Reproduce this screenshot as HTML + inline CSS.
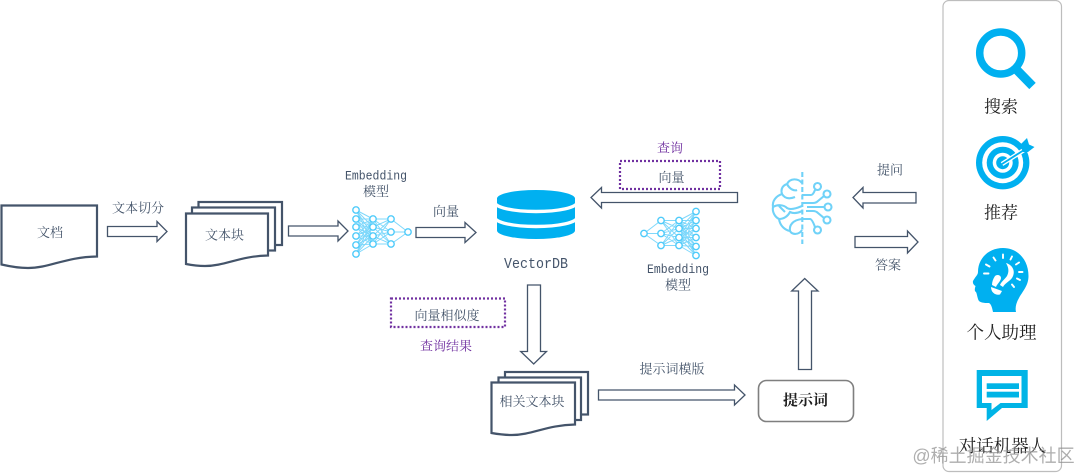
<!DOCTYPE html>
<html lang="zh"><head><meta charset="utf-8"><title>RAG</title>
<style>
html,body{margin:0;padding:0;background:#fff}
svg{display:block;filter:blur(.35px)}
text{font-family:"Liberation Serif","Noto Serif CJK SC",serif;font-size:13px;fill:#44546a;text-anchor:middle;dominant-baseline:central}
.m{font-family:"Liberation Mono","Noto Serif CJK SC",monospace}
.p{fill:#7030a0}
.k{fill:#1f1f1f;font-size:17px}
.d{fill:#fff;stroke:#44546a;stroke-width:2.2}
.a{fill:#fff;stroke:#44546a;stroke-width:1.3}
.b{fill:none;stroke:#7030a0;stroke-width:2.2;stroke-dasharray:2 2}
</style></head><body>
<svg width="1080" height="473" viewBox="0 0 1080 473" xmlns="http://www.w3.org/2000/svg">
<defs>
<g id="net">
<path fill="none" stroke="#7fd8fb" stroke-width="1" d="M373 219L356 210M373 219L356 219M373 219L356 227M373 219L356 236M373 219L356 245M373 219L356 254M373 227L356 210M373 227L356 219M373 227L356 227M373 227L356 236M373 227L356 245M373 227L356 254M373 236L356 210M373 236L356 219M373 236L356 227M373 236L356 236M373 236L356 245M373 236L356 254M373 244L356 210M373 244L356 219M373 244L356 227M373 244L356 236M373 244L356 245M373 244L356 254M391 219L373 219M391 219L373 227M391 219L373 236M391 219L373 244M391 232L373 219M391 232L373 227M391 232L373 236M391 232L373 244M391 244L373 219M391 244L373 227M391 244L373 236M391 244L373 244M408 232L391 219M408 232L391 232M408 232L391 244"/>
<g fill="#fff" stroke="#4fcbfa" stroke-width="1.4">
<circle cx="356" cy="210" r="3.2"/><circle cx="356" cy="219" r="3.2"/><circle cx="356" cy="227" r="3.2"/><circle cx="356" cy="236" r="3.2"/><circle cx="356" cy="245" r="3.2"/><circle cx="356" cy="254" r="3.2"/>
<circle cx="373" cy="219" r="3.2"/><circle cx="373" cy="227" r="3.2"/><circle cx="373" cy="236" r="3.2"/><circle cx="373" cy="244" r="3.2"/>
<circle cx="391" cy="219" r="3.2"/><circle cx="391" cy="232" r="3.2"/><circle cx="391" cy="244" r="3.2"/>
<circle cx="408" cy="232" r="3.2"/>
</g></g>
</defs>

<!-- document -->
<path class="d" d="M1.500 205.500H97V256.500C65 257 50 268 28 268C17 268 8 266 1.500 264.500Z"/>
<text x="50" y="232.500">文档</text>
<text x="138" y="208">文本切分</text>
<path class="a" d="M107.500 226.500H157V221.500L167 231.500L157 241.500V236.500H107.500Z"/>

<!-- stack 1 -->
<rect class="d" x="198.500" y="202" width="83.500" height="43"/>
<rect class="d" x="192" y="207.500" width="83" height="43"/>
<path class="d" d="M186 213.500H268V255.500C240 256 225 266 205 266C197 266 191 265 186 264Z"/>
<text x="224.500" y="235">文本块</text>

<path class="a" d="M288.500 226H338V221L348 231L338 241V236H288.500Z"/>
<text class="m" x="376" y="176" textLength="62" lengthAdjust="spacingAndGlyphs" style="font-size:13px">Embedding</text>
<text x="376" y="191.500">模型</text>
<use href="#net"/>
<text x="446" y="211.500">向量</text>
<path class="a" d="M416 227.500H465V222.500L476 232.500L465 242.500V237.500H416Z"/>

<!-- db -->
<path fill="#00b0f0" d="M497 198H575V230.500A39 8.500 0 0 1 497 230.500Z"/>
<path fill="none" stroke="#fff" stroke-width="3.400" d="M495 202.500A41 9 0 0 0 577 202.500M495 217.500A41 9 0 0 0 577 217.500"/>
<ellipse cx="536" cy="198.500" rx="39" ry="8.500" fill="#00b0f0"/>
<text class="m" x="536" y="265" textLength="64" lengthAdjust="spacingAndGlyphs" style="font-size:14.500px">VectorDB</text>

<!-- query -->
<text class="p" x="670" y="148">查询</text>
<rect class="b" x="620" y="161" width="100" height="28"/>
<text x="671.500" y="177.500">向量</text>
<path class="a" d="M737.500 192.500V202.500H601.500V208L591 197.500L601.500 187.500V192.500Z"/>
<use href="#net" transform="translate(1052 1.500) scale(-1 1)"/>
<text class="m" x="678" y="269.500" textLength="62" lengthAdjust="spacingAndGlyphs" style="font-size:13px">Embedding</text>
<text x="678" y="285">模型</text>

<!-- brain -->
<g fill="none" stroke="#70d2f8" stroke-width="2.100">
<path stroke-dasharray="5 2.500" d="M802.300 172V244"/>
<path d="M802 183C798 178 790 178 787 184C781 186 781 191 782 194C776 196 772 201 773 207C772 212 775 217 779 219C780 226 785 230 790 231C792 235 799 235 802 230"/>
<path d="M787 184C790 190 795 191 797 190M782 194C785 199 790 199 795 197M773 207C778 204 784 205 787 208C790 210 795 209 802 206M779 206L785 212M779 219C784 219 788 216 790 212C794 214 798 213 802 211M790 231C789 225 793 220 802 219"/>
<path d="M802 195H811Q813 195 815 190M802 203H813Q816 203 818 201L824 196M807 207H824.500M806 211H813Q816 211 818 213L824 218M802 219H810Q812 219 815 227"/>
<circle cx="817.500" cy="186.500" r="3.500"/><circle cx="827" cy="194" r="3.500"/><circle cx="828" cy="207" r="3.500"/><circle cx="827" cy="220" r="3.500"/><circle cx="817.500" cy="230" r="3.500"/>
</g>
<text x="890" y="170">提问</text>
<path class="a" d="M916 192.500V203H863V208L853 197.500L863 187.500V192.500Z"/>
<path class="a" d="M855 236.500H907.500V231L918 242L907.500 253V247.500H855Z"/>
<text x="888" y="265">答案</text>

<!-- lower -->
<rect class="b" x="391" y="298.500" width="114" height="28.500"/>
<text x="447" y="315.500">向量相似度</text>
<text class="p" x="446" y="346">查询结果</text>
<path class="a" d="M527.500 285H540.500V351.500H546.500L533.700 364L520.700 351.500H527.500Z"/>
<rect class="d" x="505" y="372" width="83" height="42.500"/>
<rect class="d" x="498.500" y="377.500" width="82.500" height="42.500"/>
<path class="d" d="M491.500 382.500H575V424.500C547 425 532 435 512 435C503 435 497 434 491.500 433Z"/>
<text x="532" y="401.500">相关文本块</text>
<text x="672" y="369">提示词模版</text>
<path class="a" d="M598.500 390H734.500V385L745 395L734.500 405V400H598.500Z"/>
<rect x="758.500" y="380.500" width="95" height="41" rx="8" fill="#fff" stroke="#7f7f7f" stroke-width="1.600"/>
<text x="805.500" y="401" style="font-size:15px;fill:#1f1f1f;font-weight:700">提示词</text>
<path class="a" d="M798.500 369.500V291H791.700L804.700 278.500L818 291H811.500V369.500Z"/>

<!-- panel -->
<rect x="943" y="0.500" width="118.500" height="471" rx="6" fill="#fff" stroke="#bdbdbd" stroke-width="1.200"/>
<circle cx="1000.700" cy="53" r="21" fill="none" stroke="#00b0f0" stroke-width="7.500"/>
<path d="M1014 67L1032.500 86" stroke="#00b0f0" stroke-width="9"/>
<text class="k" x="1001" y="107">搜索</text>

<circle cx="1002.700" cy="162.700" r="26.700" fill="#00b0f0"/>
<circle cx="1002.700" cy="162.700" r="20.500" fill="#fff"/>
<circle cx="1002.700" cy="162.700" r="16" fill="#00b0f0"/>
<circle cx="1002.700" cy="162.700" r="10" fill="#fff"/>
<circle cx="1002.700" cy="162.700" r="6.500" fill="#00b0f0"/>
<path d="M1002 164L1024 150" stroke="#fff" stroke-width="4.500"/>
<path d="M1002 164L1024 150" stroke="#00b0f0" stroke-width="1.800"/>
<path fill="#00b0f0" d="M1020 145L1027 138L1029 144.500L1034.500 147L1028 152L1023 152Z"/>
<text class="k" x="1001" y="213">推荐</text>

<path fill="#00b0f0" d="M1003 248C1018 248 1028.500 260 1028.500 276C1028.500 286 1022 292 1019 298C1016 303 1015 308 1016 312H993C992 307 991 304 989 303C984 303 979 303 978 299C977 296 977 294 976 292C974 291 975 288 975.500 286C973.500 285 972.500 283 973 281C975 277 978 275 978 272C978 258 989 248 1003 248Z"/>
<g stroke="#fff" stroke-width="1.900" fill="none" stroke-linecap="round">
<path d="M984 273.500H988.500M986 264.500L989.500 266.500M993.500 257.500L995.500 260.500M1003 254.500V258M1012 256.500L1010.500 259.500M1019 262.500L1016 264.500M1022.500 272H1019M1020 280L1017 278.500M1014 287L1012 284.500"/>
</g>
<path fill="#fff" d="M1006 263C1013 265 1016 272 1012 278C1009 282 1005 283 1003 287L1000 285C1001 282 1005 279 1007 276C1009 272 1009 268 1006 263Z"/>
<path fill="#fff" d="M995 276C997 274 1001 275 1001 278C1001 281 997 284 996 287L992 285C992 282 993 279 995 276Z"/>
<path fill="#fff" d="M991 287L1002 291L1000 294.500C996 295.500 991 293 991 287Z"/>
<text class="k" x="1001.500" y="332.500" style="font-size:17.500px">个人助理</text>

<path fill="#00b4e6" d="M976.700 370H1027.700V408H1002L986.700 421V408H976.700Z"/>
<path fill="#fff" d="M982 376H1021.500V403H1000.500L991.500 410V403H982Z"/>
<rect x="986.700" y="383.300" width="32.300" height="5.700" fill="#00b4e6"/>
<rect x="986.700" y="391.700" width="32.300" height="5.800" fill="#00b4e6"/>
<text class="k" x="1002.500" y="446" style="font-size:17.500px">对话机器人</text>
<text x="993.500" y="456" style="font-family:'Liberation Sans','Noto Sans CJK SC',sans-serif;font-size:18px;fill:#8c8c8c;fill-opacity:.7">@稀土掘金技术社区</text>
</svg>
</body></html>
